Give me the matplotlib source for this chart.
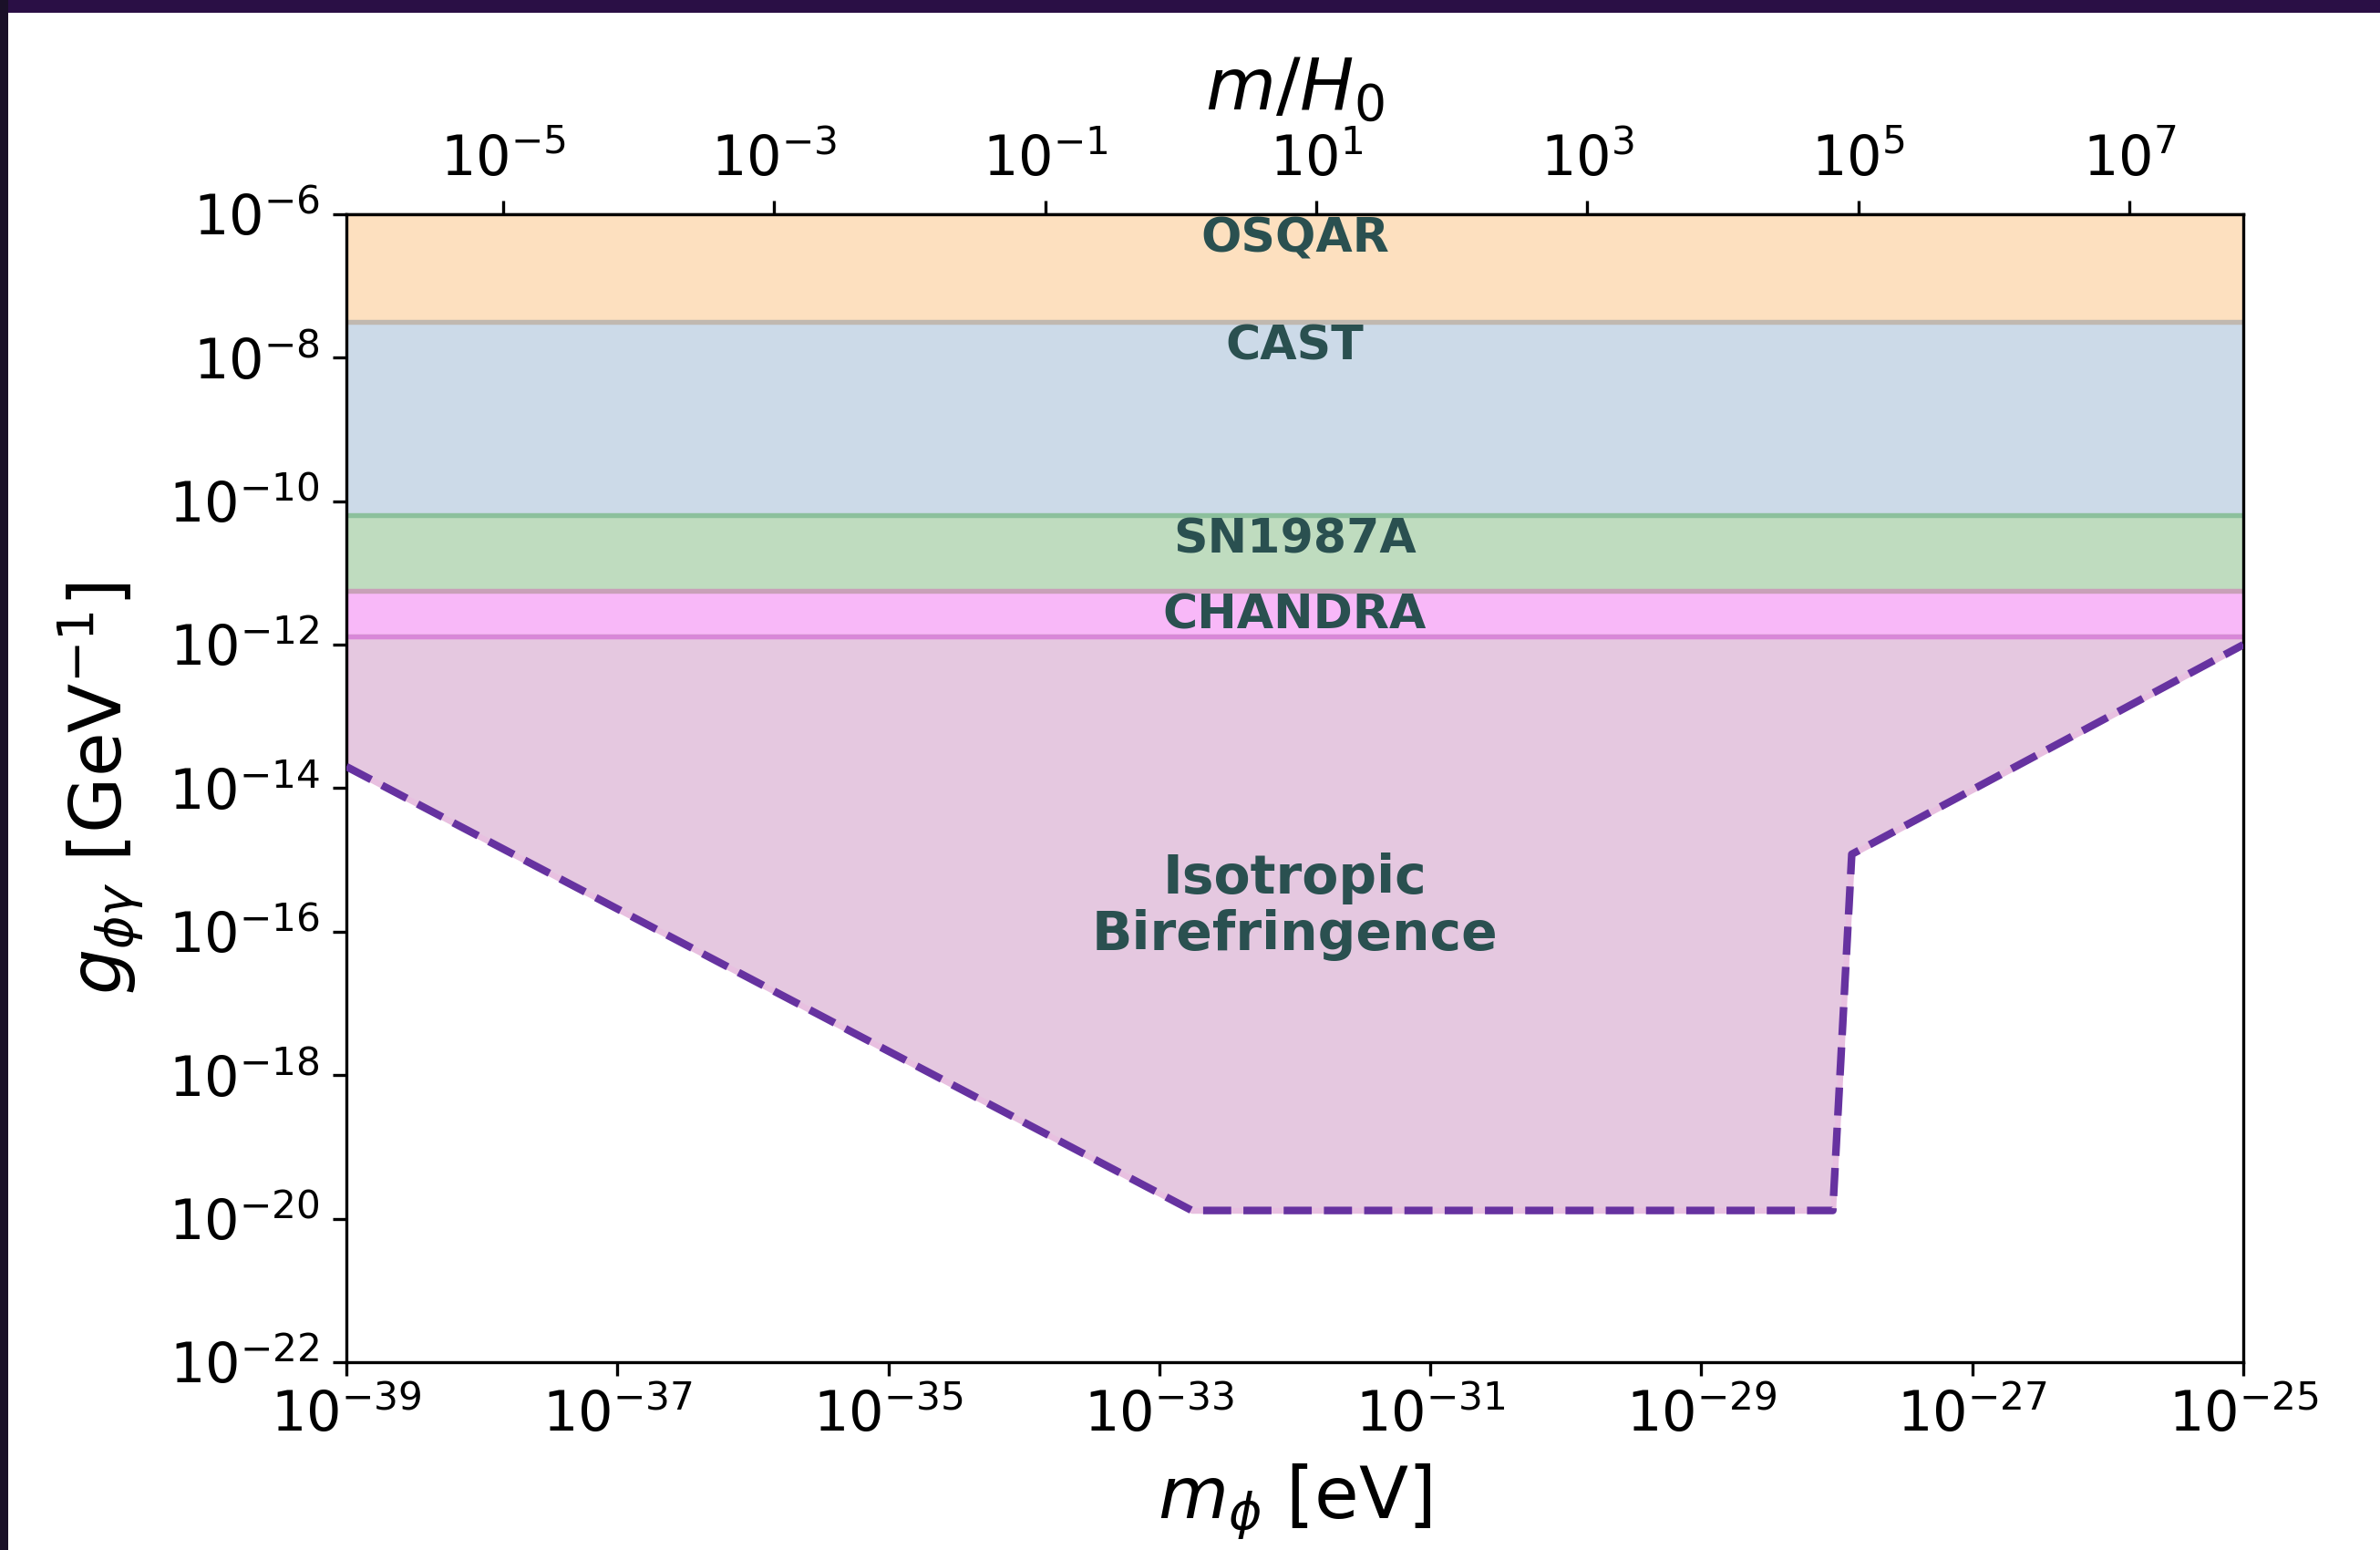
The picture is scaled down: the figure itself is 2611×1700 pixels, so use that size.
import numpy as np
import matplotlib
matplotlib.use("Agg")
import matplotlib.pyplot as plt
from matplotlib.patches import Rectangle
from matplotlib.ticker import NullLocator

# ---------------- data ----------------
H0 = 1.44e-33  # eV

band_names = ["OSQAR", "CAST", "SN1987A", "CHANDRA"]
band_upper = [1e-6, 3.16e-8, 6.4e-11, 5.6e-12]
band_lower = [3.16e-8, 6.4e-11, 5.6e-12, 1.3e-12]
band_face = ["#fde0bf", "#ccdae8", "#bfdcbf", "#f8b8f8"]
# colour of the line drawn at the lower edge of each band
band_lower_edge = ["#c0b8b0", "#8cc09c", "#c8a0b8", "#d888d8"]

iso_x = [1e-39, 10**-32.76, 10**-28.03, 10**-27.89, 1e-25]
iso_y = [2e-14, 1.3e-20, 1.3e-20, 1.2e-15, 1e-12]
iso_top = 1.3e-12

xticks = [1e-39, 1e-37, 1e-35, 1e-33, 1e-31, 1e-29, 1e-27, 1e-25]
yticks = [1e-22, 1e-20, 1e-18, 1e-16, 1e-14, 1e-12, 1e-10, 1e-8, 1e-6]
top_ticks = [1e-5, 1e-3, 1e-1, 1e1, 1e3, 1e5, 1e7]

# ---------------- figure ----------------
dpi = 300
fig = plt.figure(figsize=(2611 / dpi, 1700 / dpi), dpi=dpi)
fig.patch.set_facecolor("white")
# screenshot border strips
fig.patches.append(Rectangle((0, 1 - 14 / 1700), 1, 14 / 1700, transform=fig.transFigure,
                             facecolor="#2a0f45", edgecolor="none", zorder=-1))
fig.patches.append(Rectangle((0, 0), 9 / 2611, 1, transform=fig.transFigure,
                             facecolor="#1a1028", edgecolor="none", zorder=-1))

ax = fig.add_axes([0.1455, 0.1212, 0.9426 - 0.1455, 0.8618 - 0.1212])
ax.set_xscale("log")
ax.set_yscale("log")
ax.set_xlim(1e-39, 1e-25)
ax.set_ylim(1e-22, 1e-6)

xs = np.array([1e-39, 1e-25])
for name, up, lo, fc in zip(band_names, band_upper, band_lower, band_face):
    ax.fill_between(xs, [lo, lo], [up, up], facecolor=fc, edgecolor="none", linewidth=0, zorder=1)
    ax.text(1e-32, up * 0.93, name, ha="center", va="top", fontsize=12.5,
            fontweight="bold", color="#2a5050", zorder=5)

ax.fill_between(iso_x, iso_y, [iso_top] * len(iso_x), facecolor="#e5c8e0",
                edgecolor="#e8c0e0", linewidth=1.5, zorder=1)

for lo, ec in zip(band_lower, band_lower_edge):
    ax.plot(xs, [lo, lo], color=ec, linewidth=1.3, zorder=2)

ax.plot(iso_x, iso_y, linestyle="--", color="#6632a0", linewidth=2.0, zorder=3)
ax.text(1e-32, 10**-15.65, "Isotropic\nBirefringence", ha="center", va="center",
        fontsize=14, fontweight="bold", color="#2a5050", zorder=5, linespacing=1.12)

ax.set_xticks(xticks)
ax.set_yticks(yticks)
ax.xaxis.set_minor_locator(NullLocator())
ax.yaxis.set_minor_locator(NullLocator())
ax.tick_params(labelsize=14.5, length=3.5, width=0.8)
ax.set_xlabel(r"$m_\phi$ [eV]", fontsize=19, labelpad=5)
ax.set_ylabel(r"$g_{\phi\gamma}$ [GeV$^{-1}$]", fontsize=19, labelpad=6)

sec = ax.secondary_xaxis("top", functions=(lambda x: x / H0, lambda x: x * H0))
sec.set_xticks(top_ticks)
sec.xaxis.set_minor_locator(NullLocator())
sec.tick_params(labelsize=14.5, length=3.5, width=0.8)
sec.set_xlabel(r"$m/H_0$", fontsize=19, labelpad=6)

fig.savefig("out.png", dpi=dpi, facecolor=fig.get_facecolor())
